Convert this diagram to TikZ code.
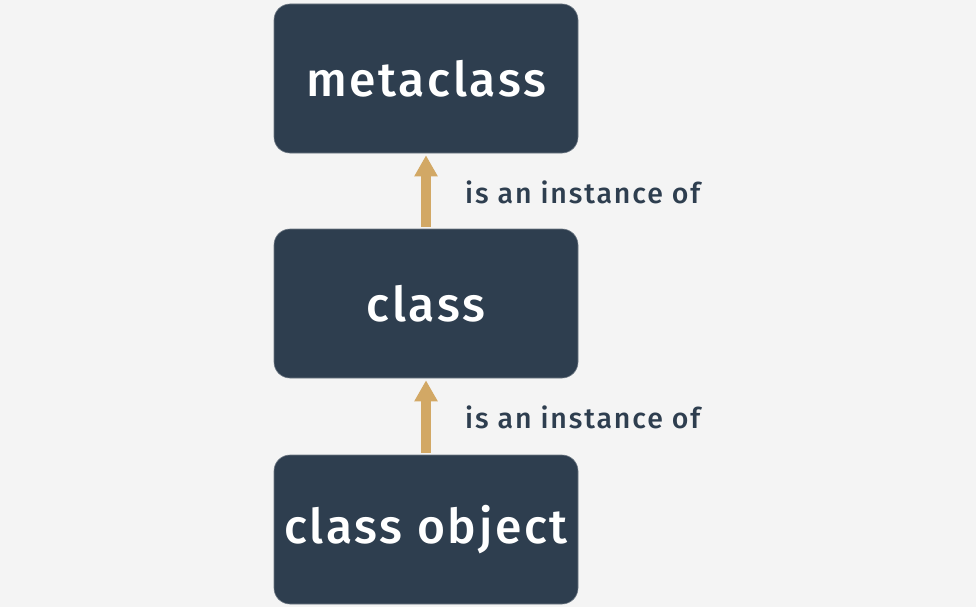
\documentclass[tikz,border=0pt]{standalone}
\usepackage{fontspec}
\setmainfont{Fira Sans}
\newfontfamily\boxfont[LetterSpace=5.5]{Fira Sans Medium}
\newfontfamily\labfont[LetterSpace=6.5]{Fira Sans Medium}
\usetikzlibrary{arrows.meta}
\definecolor{bg}{HTML}{F4F4F4}
\definecolor{boxc}{HTML}{2E3E4F}
\definecolor{arrc}{HTML}{D2A865}
\tikzset{
  cbox/.style={fill=boxc, draw=boxc!70!white, line width=0.6pt, rounded corners=16pt, minimum width=304pt, minimum height=149pt, text=white, font=\boxfont\fontsize{48}{48}\selectfont, inner sep=0pt},
  inst/.style={text=boxc, font=\labfont\fontsize{28.5}{28.5}\selectfont, anchor=base west, inner sep=0pt},
  up/.style={draw=arrc, line width=10pt, -{Triangle[length=21pt,width=22pt]}, shorten >=2pt, shorten <=2pt}
}
\begin{document}
\begin{tikzpicture}[x=1pt,y=1pt]
\fill[bg] (0,0) rectangle (976,-607);
\useasboundingbox (0,0) rectangle (976,-607);
\node[cbox] (meta) at (426,-78.5) {metaclass};
\node[cbox] (cls) at (426,-303.5) {class};
\node[cbox] (obj) at (426,-529.5) {class object};
\draw[up] (cls.north) -- (meta.south);
\draw[up] (obj.north) -- (cls.south);
\node[inst] (l1) at (465,-203) {is an instance of};
\node[inst] (l2) at (465,-428) {is an instance of};
\end{tikzpicture}
\end{document}
